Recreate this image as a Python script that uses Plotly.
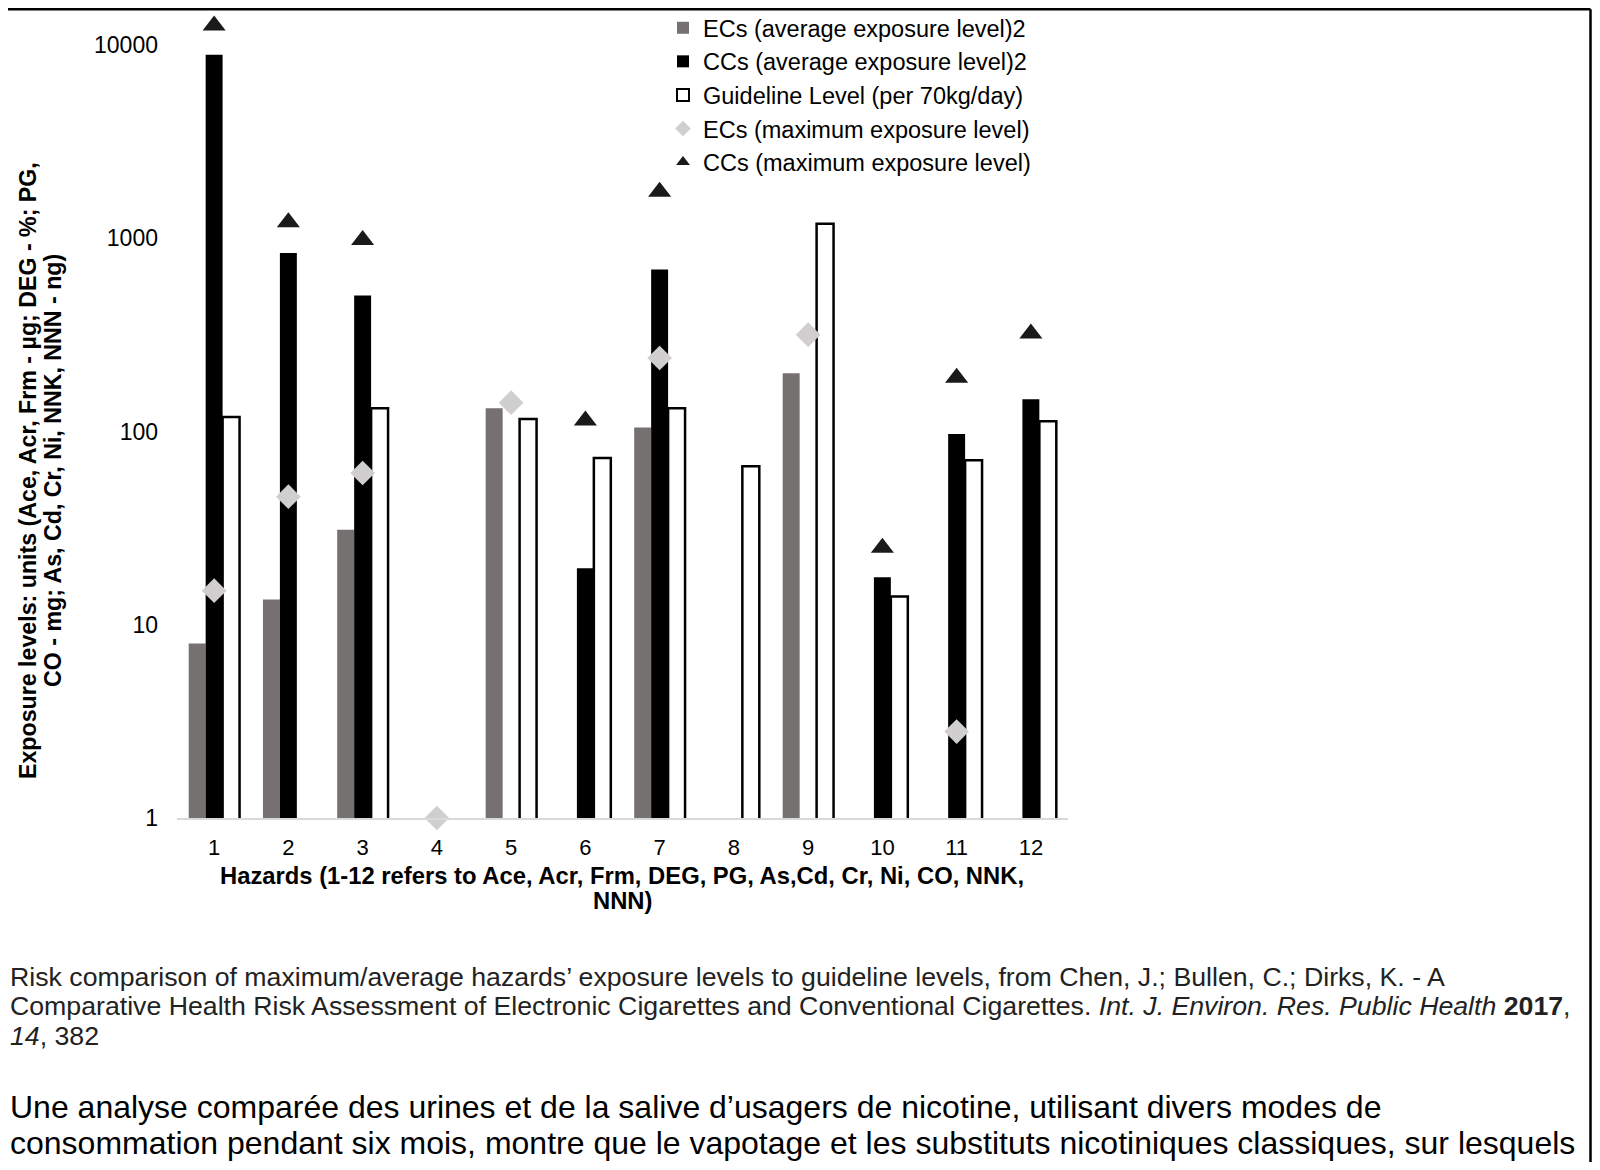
import plotly.graph_objects as go

hazards = ["1", "2", "3", "4", "5", "6", "7", "8", "9", "10", "11", "12"]
ec_avg = [8.0, 13.5, 31, None, 132, None, 105, None, 200, None, None, None]
cc_avg = [8900, 840, 505, None, None, 19.6, 690, None, None, 17.6, 97, 147]
guideline = [119, None, 132, None, 116, 73, 132, 66, 1190, 14.0, 71, 113]
ec_max = [15, 46, 61, 1, 141, None, 240, None, 317, None, 2.8, None]
cc_max = [12600, 1210, 980, None, None, 114, 1740, None, None, 25, 190, 321]

y_ticks = [1, 10, 100, 1000, 10000]

FONT = "Arial, Liberation Sans, sans-serif"
OFF = 8  # page body margin
W, H = 1600 - 2 * OFF, 1170 - 2 * OFF


def px_x(x):
    # screen pixel -> paper fraction
    return (x - OFF) / W


def px_y(y):
    return 1 - (y - OFF) / H


fig = go.Figure()
fig.add_trace(go.Bar(x=hazards, y=ec_avg, name="ECs (average exposure level)2",
                     marker=dict(color="#767171", line=dict(width=0))))
fig.add_trace(go.Bar(x=hazards, y=cc_avg, name="CCs (average exposure level)2",
                     marker=dict(color="#000000", line=dict(width=0))))
fig.add_trace(go.Bar(x=hazards, y=guideline, name="Guideline Level (per 70kg/day)",
                     marker=dict(color="#ffffff", line=dict(color="#000000", width=2.5))))
fig.add_trace(go.Scatter(x=hazards, y=ec_max, name="ECs (maximum exposure level)", mode="markers",
                         marker=dict(symbol="diamond", size=19, color="#d0cece"), cliponaxis=False))
fig.add_trace(go.Scatter(x=hazards, y=cc_max, name="CCs (maximum exposure level)", mode="markers",
                         marker=dict(symbol="triangle-up", size=20, color="#1a1a1a"), cliponaxis=False))

x0, x1 = 177, 1068
y_bottom, y_top = 818, 9
decade = 193.25

fig.update_layout(
    width=W, height=H,
    margin=dict(l=0, r=0, t=0, b=0, autoexpand=False),
    paper_bgcolor="white", plot_bgcolor="white",
    font=dict(family=FONT, color="#000000"),
    barmode="group", bargap=0.315, bargroupgap=0,
    showlegend=True,
    legend=dict(x=px_x(663), y=px_y(6), xanchor="left", yanchor="top",
                font=dict(size=23.5, family=FONT, color="#000000"),
                bgcolor="rgba(0,0,0,0)", traceorder="normal",
                itemsizing="constant", itemwidth=30, tracegroupgap=0),
    xaxis=dict(domain=[px_x(x0), px_x(x1)], anchor="y", range=[-0.5, 11.5],
               showline=True, linecolor="#d9d9d9", linewidth=2,
               showgrid=False, ticks="", tickfont=dict(size=22, color="#000000"),
               ticklabelstandoff=9, zeroline=False),
    yaxis=dict(domain=[px_y(y_bottom), px_y(y_top)], anchor="x",
               type="log", range=[0, (y_bottom - y_top) / decade], showline=False, showgrid=False,
               zeroline=False, ticks="", tickvals=y_ticks,
               ticktext=[str(v) for v in y_ticks],
               tickfont=dict(size=23, color="#000000"), ticklabelstandoff=18),
)

# Y axis title (two lines)
y_title = [("Exposure levels: units (Ace, Acr, Frm - µg; DEG - %; PG,", 28),
           ("CO - mg; As, Cd, Cr, Ni, NNK, NNN - ng)", 53)]
for txt, xx in y_title:
    fig.add_annotation(text="<b>" + txt + "</b>", xref="paper", yref="paper",
                       x=px_x(xx), y=px_y(471), textangle=-90, showarrow=False,
                       font=dict(size=23.2, family=FONT, color="#000000"),
                       xanchor="center", yanchor="middle")

# X axis title (two lines)
x_title = [("Hazards (1-12 refers to Ace, Acr, Frm, DEG, PG, As,Cd, Cr, Ni, CO, NNK,", 875),
           ("NNN)", 900)]
for txt, yy in x_title:
    fig.add_annotation(text="<b>" + txt + "</b>", xref="paper", yref="paper",
                       x=px_x(622), y=px_y(yy), showarrow=False,
                       font=dict(size=23.8, family=FONT, color="#000000"),
                       xanchor="center", yanchor="middle")

# Caption
caption = [
    ("Risk comparison of maximum/average hazards’ exposure levels to guideline levels, from Chen, J.; Bullen, C.; Dirks, K. - A", 977),
    ("Comparative Health Risk Assessment of Electronic Cigarettes and Conventional Cigarettes. <i>Int. J. Environ. Res. Public Health</i> <b>2017</b>,", 1006),
    ("<i>14</i>, 382", 1036),
]
for txt, yy in caption:
    fig.add_annotation(text=txt, xref="paper", yref="paper", x=px_x(8), y=px_y(yy),
                       showarrow=False, xanchor="left", yanchor="middle", align="left",
                       font=dict(size=26.7, family=FONT, color="#222222"))

para = [
    ("Une analyse comparée des urines et de la salive d’usagers de nicotine, utilisant divers modes de", 1107),
    ("consommation pendant six mois, montre que le vapotage et les substituts nicotiniques classiques, sur lesquels", 1143),
]
for txt, yy in para:
    fig.add_annotation(text=txt, xref="paper", yref="paper", x=px_x(8), y=px_y(yy),
                       showarrow=False, xanchor="left", yanchor="middle", align="left",
                       font=dict(size=32, family=FONT, color="#000000"))

# Frame lines (top and right)
right = min(1591, OFF + W - 1.5)
fig.add_shape(type="line", xref="paper", yref="paper", x0=0, x1=px_x(right), y0=px_y(9.2), y1=px_y(9.2),
              line=dict(color="#000000", width=2.5))
fig.add_shape(type="line", xref="paper", yref="paper", x0=px_x(right), x1=px_x(right), y0=px_y(9.2), y1=0,
              line=dict(color="#000000", width=2.5))

fig.write_html("out.html")
